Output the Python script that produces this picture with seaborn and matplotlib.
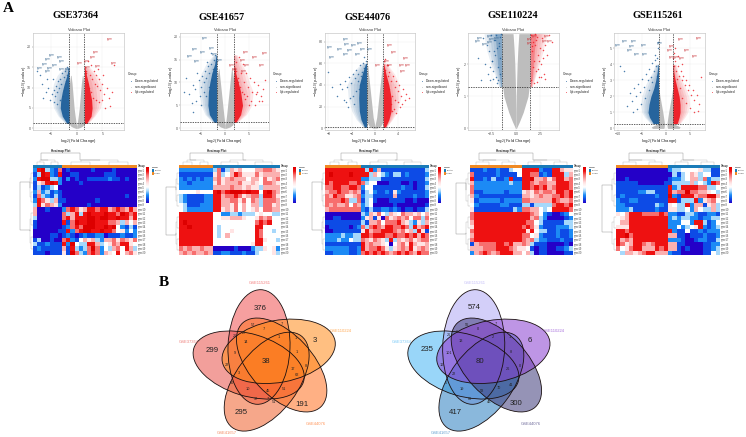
import numpy as np
import matplotlib
matplotlib.use("Agg")
import matplotlib.pyplot as plt
from matplotlib.colors import LinearSegmentedColormap, ListedColormap
from matplotlib.patches import Ellipse, Rectangle
import seaborn as sns

W, H = 746, 437
sns.set_theme(style="whitegrid", font="Liberation Sans")

# ---------- dataset names ----------
titles = ["GSE37364", "GSE41657", "GSE44076", "GSE110224", "GSE115261"]
title_xy = [(76, 15), (222, 18), (368, 18), (513, 15), (658, 15)]
groups = ["Down-regulated", "non-significant", "Up-regulated"]

# ---------- volcano panels: frame in pixels ----------
vol_box = [(33, 33, 124, 130), (180, 33, 269, 130), (325, 33, 415, 130),
           (468, 33, 559, 130), (614, 33, 705, 130)]
vol_xlim = [(-8.5, 9.2), (-9.4, 9.1), (-8.6, 6.9), (-4.96, 4.45), (-10.8, 8.2)]
vol_ylim = [(-0.4, 23.4), (-0.37, 20.8), (-1.6, 88), (-0.05, 2.97), (-0.1, 5.96)]
vol_xticks = [[-5, 0, 5], [-5, 0, 5], [-8, -4, 0, 4], [-2.5, 0, 2.5], [-10, -5, 0, 5]]
vol_yticks = [[0, 5, 10, 15, 20], [0, 5, 10, 15, 20], [0, 20, 40, 60, 80], [0, 1, 2], [0, 1, 2, 3, 4, 5]]
vol_fc = [1.5, 1.8, 1.44, 1.47, 1.5]
vol_p = [1.2, 1.3, 1.0, 1.3, 0.3]
vol_dense_alpha = [0.95, 0.95, 0.95, 0.3, 0.95]

# grey cloud outline (|log2FC| against -log10 p)
grey_y = [[0, .3, .6, 1.2, 3, 5, 8, 11, 13],
          [0, .3, .7, 1.3, 3, 5, 8, 11, 13],
          [0, 2, 5, 10, 20, 35, 50, 58],
          [0, .2, .5, 1, 1.5, 2, 2.5, 2.95],
          [0, .1, .3, .6, 1, 1.5, 2, 2.4]]
grey_out = [[.2, .8, 1.2, 1.5, 1.5, 1.5, 1.5, 1.4, 1.2],
            [.2, 1, 1.5, 1.8, 1.8, 1.8, 1.8, 1.7, 1.4],
            [.3, 1, 1.3, 1.44, 1.44, 1.44, 1.3, 1.2],
            [.05, .35, .75, 1.25, 1.45, 1.47, 1.45, 1.4],
            [2.8, 3, 1.5, 1.5, 1.5, 1.5, 1.5, 1.5]]
grey_in = [[0, 0, 0, .1, .3, .5, .7, .9, 1.1],
           [0, 0, 0, .1, .3, .5, .8, 1.1, 1.3],
           [0, 0, .1, .3, .5, .8, 1.1, 1.15],
           [0, 0, 0, .03, .07, .12, .2, .3],
           [.4, .3, .25, .4, .6, .9, 1.2, 1.4]]

# dense and thinner bands of significant genes
band_y = [[1.2, 3, 5, 7, 9, 11, 13, 15],
          [1.3, 3, 5, 8, 10, 12, 14, 16],
          [1, 8, 16, 28, 40, 50, 60],
          [1.3, 1.6, 2, 2.4, 2.7, 2.95],
          [.3, .7, 1, 1.5, 2, 2.5, 3, 3.5, 4]]
down_dense = [[-1.9, -2.8, -3.2, -3.1, -2.8, -2.4, -1.9, -1.6],
              [-2.3, -3.3, -3.6, -3.5, -3.2, -2.8, -2.2, -1.9],
              [-1.8, -2.4, -2.7, -2.8, -2.7, -2.2, -1.6],
              [-1.55, -1.7, -1.9, -2, -2.1, -2.2],
              [-2.6, -3.4, -3.7, -3.5, -3.1, -2.5, -2.1, -1.8, -1.6]]
down_mid = [[-2.2, -3.6, -4.5, -4.8, -4.8, -4.5, -3.8, -2.5],
            [-2.6, -4.2, -5, -5.5, -5.5, -5, -4, -2.5],
            [-2, -3.2, -4, -4.6, -4.8, -4, -2.4],
            [-1.8, -2.1, -2.6, -3, -3.2, -3.3],
            [-3.2, -4.4, -5, -5.2, -5, -4.5, -3.8, -2.8, -2.2]]
up_dense = [[1.9, 2.8, 3.0, 2.9, 2.6, 2.3, 1.9, 1.6],
            [2.2, 3.2, 3.6, 3.2, 2.7, 2.2, 1.9, 1.85],
            [1.8, 2.4, 2.8, 2.8, 2.4, 1.9, 1.5],
            [1.55, 1.7, 1.8, 1.9, 2, 2.1],
            [2.4, 2.8, 3, 3, 2.8, 2.4, 2, 1.7, 1.6]]
up_mid = [[2.2, 3.5, 4.6, 5, 5, 4.8, 4, 2.5],
          [2.5, 4.4, 5.5, 5.8, 5, 4.5, 3.5, 2.5],
          [2, 3, 3.9, 4.4, 4.2, 3.4, 2],
          [1.7, 2, 2.4, 2.8, 3, 3.3],
          [3, 4, 4.6, 5, 4.8, 4.2, 3.4, 2.6, 2.2]]

# outlying genes
dn_x = [[-1.7, -1.9, -2.2, -2.5, -2.8, -3, -3.2, -3.4, -3.6, -3.8, -4.1, -4.2, -4.4, -4.6, -4.9, -5.2, -5.5, -6, -6.5, -7.2, -2.1, -2.7, -3.3, -3.9, -4.5, -1.8, -2.4, -5.8, -7.7, -6.8],
        [-2, -2.3, -2.6, -2.9, -3.3, -3.6, -3.9, -4.2, -4.5, -4.8, -5.1, -5.5, -5.9, -6.3, -6.8, -7.5, -8.2, -2.2, -3, -3.8, -4.4, -5.3, -6.1, -7, -2.7, -3.4, -4, -5, -6.6, -8.6],
        [-1.6, -1.8, -2, -2.3, -2.6, -2.9, -3.2, -3.5, -3.8, -4.1, -4.4, -4.8, -5.2, -5.6, -6, -6.6, -7.4, -1.9, -2.4, -3, -3.3, -3.7, -4.3, -5, -2.1, -2.8, -3.6, -4.6, -5.4, -8],
        [-1.6, -1.7, -1.8, -1.9, -2, -2.1, -2.2, -2.3, -2.4, -2.5, -2.6, -2.7, -2.8, -2.9, -3, -3.2, -3.4, -3.6, -1.65, -1.85, -2.05, -2.25, -2.45, -2.65, -1.55, -1.75, -1.95, -2.15, -2.35, -3.9],
        [-1.6, -1.8, -2, -2.2, -2.5, -2.8, -3.1, -3.4, -3.8, -4.2, -4.6, -5, -5.4, -5.8, -6.2, -6.6, -7, -7.5, -8, -8.7, -1.7, -2.3, -2.9, -3.5, -4.4, -5.2, -6, -6.9, -9.6, -1.9]]
dn_y = [[14.5, 13, 14, 12.5, 13.5, 11, 12, 10, 11.5, 9, 10.5, 8, 9.5, 12, 8.5, 7, 10, 9, 7.5, 13, 11.5, 8, 7, 6, 6.5, 15, 9.5, 12, 14, 11],
        [14.5, 15, 13, 14, 12, 13.5, 11, 12.5, 10, 11.5, 9, 10.5, 12, 8.5, 9.5, 7.5, 11, 16, 16.5, 14.5, 8, 7, 6, 5.5, 10.5, 9, 7, 5, 3.5, 8],
        [62, 56, 60, 52, 58, 50, 54, 46, 50, 42, 47, 38, 44, 36, 41, 30, 38, 66, 48, 44, 34, 30, 28, 24, 42, 36, 22, 20, 26, 52],
        [2.85, 2.2, 2.65, 1.9, 2.5, 1.6, 2.3, 2.75, 1.8, 2.1, 2.9, 1.5, 2.4, 1.7, 2.6, 2, 2.8, 1.5, 1.7, 1.5, 2.9, 2.4, 2.1, 1.9, 2.95, 2.55, 1.4, 2.75, 1.55, 2.2],
        [5, 4.4, 3.9, 4.6, 3.6, 4.1, 3.2, 3.7, 3, 3.4, 2.6, 3.1, 2.3, 2.8, 2, 2.5, 1.7, 2.2, 1.4, 3.6, 5.4, 4.3, 2.9, 2.4, 1.9, 1.5, 1.2, 1, 3.9, 3.3]]
up_x = [[1.7, 1.9, 2.2, 2.5, 2.8, 3, 3.3, 3.5, 3.8, 4, 4.3, 4.6, 5, 5.4, 5.8, 6.2, 6.8, 7.3, 2.1, 2.7, 3.2, 3.7, 4.4, 4.9, 5.6, 1.8, 2.4, 6.5, 5.2, 4.1],
        [2, 2.3, 2.6, 2.9, 3.3, 3.6, 4, 4.3, 4.7, 5.1, 5.5, 6, 6.4, 6.9, 7.4, 7.8, 8.3, 2.2, 3, 3.8, 4.5, 5.3, 6.2, 7, 2.7, 3.4, 4.1, 5, 6.6, 7.6],
        [1.6, 1.8, 2, 2.2, 2.5, 2.8, 3.1, 3.4, 3.7, 3.9, 4.2, 4.5, 4.8, 5.1, 5.4, 1.9, 2.4, 3, 3.5, 4, 4.4, 2.1, 2.7, 3.3, 4.7, 1.7, 2.3, 5.9, 2.9, 3.6],
        [1.55, 1.65, 1.75, 1.85, 1.95, 2.05, 2.15, 2.25, 2.35, 2.45, 2.55, 2.65, 2.75, 2.9, 3.05, 3.2, 3.4, 3.7, 1.6, 1.8, 2, 2.2, 2.4, 2.6, 2.8, 1.7, 1.9, 2.1, 2.3, 3],
        [1.6, 1.8, 2, 2.2, 2.5, 2.8, 3.1, 3.4, 3.7, 4, 4.3, 4.6, 4.9, 5.2, 5.6, 6, 6.5, 7, 1.7, 2.3, 2.9, 3.5, 4.2, 5, 5.8, 6.8, 1.9, 2.6, 3.3, 7.4]]
up_y = [[15, 14, 16.5, 13, 15.5, 12, 14, 11, 13, 10.5, 12, 9.5, 11, 8.5, 10, 7.5, 9, 15.5, 11, 9, 7.5, 7, 6.5, 7, 5, 13.5, 10, 5.5, 13, 14.5],
        [13, 14.5, 11, 15.5, 12, 14, 10, 12, 9, 11, 8, 10, 7.5, 9.5, 7, 8.5, 10.5, 12.5, 9, 7.5, 7, 6, 5, 6, 10, 8, 6.5, 5, 8, 6],
        [62, 54, 58, 48, 52, 44, 48, 38, 44, 34, 40, 30, 36, 26, 32, 42, 36, 30, 26, 24, 20, 28, 22, 18, 22, 64, 58, 28, 16, 14],
        [2.9, 2.4, 2.7, 2.1, 2.6, 1.8, 2.85, 2.3, 1.6, 2.5, 2, 2.8, 2.2, 1.7, 2.6, 2.3, 2.9, 2.7, 1.5, 1.9, 2.95, 1.45, 2.1, 1.6, 2.45, 2.55, 1.4, 2.75, 1.85, 1.55],
        [4.4, 3.9, 4.2, 3.6, 3.9, 3.3, 3.6, 3, 3.3, 2.7, 3, 2.4, 2.7, 2.1, 2.4, 1.8, 2.1, 1.5, 4.7, 3.1, 2.5, 1.9, 1.6, 1.3, 1, 1.1, 5, 4.5, 4, 3.2]]

# gene-label slots of each volcano (pixels); names too small to read
lab_down = [[(52, 55), (60, 57), (48, 59), (62, 61), (45, 64), (55, 65), (40, 68), (50, 68), (62, 69), (68, 69), (48, 71)],
            [(205, 38), (195, 49), (212, 48), (203, 52), (190, 56), (215, 54), (197, 61), (220, 60)],
            [(346, 39), (347, 44), (354, 45), (360, 43), (330, 47), (340, 49), (350, 50), (363, 49), (370, 49), (346, 54), (358, 54), (332, 57)],
            [(490, 36), (480, 38), (492, 39), (478, 41), (490, 42), (485, 44), (497, 38)],
            [(625, 41), (634, 41), (660, 43), (618, 45), (644, 45), (632, 46), (630, 50), (645, 54), (637, 54)]]
lab_up = [[(110, 39), (96, 52), (93, 57), (80, 63), (87, 61), (114, 63), (88, 67), (98, 66)],
          [(246, 52), (265, 53), (255, 57), (243, 60), (247, 65), (232, 65), (235, 69), (262, 65), (244, 71)],
          [(390, 45), (394, 52), (406, 58), (387, 61), (378, 65), (390, 65), (402, 65), (408, 65), (403, 71)],
          [(547, 36), (535, 36), (530, 39), (545, 41), (530, 43), (550, 41)],
          [(681, 39), (699, 38), (672, 46), (670, 50), (687, 50), (677, 57), (695, 56), (682, 58), (672, 57)]]

# ---------- heatmaps: digit = expression level 0 (low) .. 9 (high) ----------
hm1 = ["2893217 010000010000100000", "1398218 001100000011100000", "2899332 020100111112110100",
       "1568982 000010000000000000", "1312340 000000000000000000", "2623121 000000000000000000",
       "1732131 000000000000000100", "2875361 100000001000000000", "3857652 000000100000000000",
       "6001000 278756887886787686", "6000000 736838988898879878", "3000000 786888998998898868",
       "1000000 817988998887763646", "1000000 127879998898942131", "0000001 182789988988745242",
       "0000110 121012112201112112", "1300100 782146563266757657", "3112111 829433886345768854",
       "1211111 618323797243674863", "1110111 519732787265484675"]
hm2 = ["22222222 3713656444667765", "11111111 5734687555756666", "21212122 6756766646647567",
       "22122222 5756667556547765", "22222222 6666766565536666", "44445444 8978999898848976",
       "32111122 8867787567738875", "32111122 8866775747637776", "43111222 8866574646637756",
       "43222222 8856574645647766", "88888888 4422332333454433", "88888888 4455666544576744",
       "89888888 4444444444787844", "88988888 4344444444884444", "88888888 4344544444874434",
       "88888888 4346444444874444", "88888888 4444444444885443", "88888888 4444444445884444",
       "76766766 0000010002335452", "67676676 1122111211344453"]
hm3 = ["888888888 83826111111111113", "898888988 88364321331211112", "888888888 22333111111111113",
       "878888778 73440001110010112", "778877887 24411111112110113", "677877676 13421121521111112",
       "768775567 23311111611112112", "777787337 13410001111001000", "767667476 23400000100000001",
       "677777777 21311221210110113", "000000000 32657436547665646", "001100000 25615075676747737",
       "111111111 31667477786532536", "011111012 73787688778738678", "001111111 58677888767563851",
       "222232233 88788877877878687", "222322433 76576538365675677", "111111111 86766540467586556",
       "222222112 86778753567685676", "112222112 78787876787876877"]
hm4 = ["111211211344 888821188655", "711111211114 887712188836", "811213112811 889667578867",
       "622222222322 887677668887", "722222222222 887878678887", "711222221222 565767768878",
       "621111111111 665676677878", "512222212222 776666687667", "421111122111 331333378878",
       "511111111132 776643488887", "788888888888 887642100124", "788888888888 886732000012",
       "688888888888 877431111133", "588888888888 787521112223", "788888888888 858433112112",
       "688888888888 774521112112", "788888888888 767322111211", "167777887866 763111000010",
       "666777888765 541011001123", "267876788866 463011000011"]
hm5 = ["000000000000 233444453311", "000000000000 031346534411", "001000000000 122346637233",
       "111110000001 133336343287", "111111111111 823888877334", "111112233111 867797766543",
       "121111111211 921888677996", "211221111111 881333825674", "221111111321 543382661563",
       "222311111211 553342643363", "546888777787 221133211221", "456888888888 232332212233",
       "466888888888 222442883124", "555888888888 224234582123", "887888888888 821141121222",
       "889788888888 661101112112", "867688888888 222100122113", "875688767888 661100001122",
       "745788666878 661010001123", "436656788666 211000001143"]
heat_rows = [hm1, hm2, hm3, hm4, hm5]
heat_box = [(33, 168, 137, 255), (179, 168, 280, 255), (325, 168, 429, 255), (470, 168, 573, 255), (616, 168, 720, 255)]
cbar_x = [146, 293, 438, 583, 729]
# sample group per column: 0 = first group, 1 = second group
ann_first = [1, 0, 0, 0, 0]
top_root = [(41, 80), (190, 243), (341, 397), (479, 533), (629, 683)]
left_root = [(20, 182, 230), (166, 187, 235), (312, 182, 230), (456, 183, 234), (602, 185, 232)]
row_split = [9, 10, 10, 10, 10]
gene_rows = [f"gene{i}" for i in range(1, 21)]

# ---------- venn diagrams ----------
venn_names = ["GSE115261", "GSE110224", "GSE44076", "GSE41657", "GSE37364"]
venn_cx = [327, 386, 395, 350, 296]
venn_cy = [246, 259, 300, 350, 300]
venn_angle = [-88, -10.6, 47, -53, 17]
venn_draw_order = [4, 0, 3, 2, 1]
venn_colors_a = ["#F05050", "#FF8C1A", "#FF7020", "#F0602A", "#E8504A"]
venn_colors_b = ["#B0A8F5", "#8A3FD0", "#3F3A7A", "#2B7FC0", "#45B5F5"]
venn_name_xy_a = [(330, 55), (572, 198), (497, 478), (230, 505), (115, 232)]
venn_name_xy_b = [(298, 55), (535, 198), (467, 478), (197, 505), (80, 232)]
big_a = [("376", 330, 130), ("3", 495, 225), ("191", 455, 417), ("295", 272, 443), ("299", 188, 255), ("38", 347, 290)]
big_b = [("574", 298, 128), ("6", 463, 225), ("300", 423, 415), ("417", 240, 441), ("235", 157, 254), ("80", 314, 290)]
small_a = [("57", 308, 180), ("7", 342, 192), ("7", 395, 178), ("26", 255, 212), ("27", 283, 203), ("14", 288, 230),
           ("1", 385, 215), ("1", 437, 218), ("9", 255, 265), ("1", 440, 262), ("22", 232, 300), ("3", 268, 325),
           ("17", 428, 312), ("8", 467, 302), ("62", 442, 330), ("90", 245, 355), ("10", 293, 372), ("45", 355, 377),
           ("51", 403, 372), ("37", 317, 403), ("7", 352, 403), ("51", 373, 411)]
small_b = [("56", 277, 180), ("0", 310, 192), ("7", 363, 176), ("26", 222, 210), ("6", 245, 200), ("13", 257, 228),
           ("2", 353, 215), ("1", 405, 215), ("101", 223, 265), ("8", 408, 260), ("16", 201, 300), ("22", 238, 326),
           ("26", 398, 312), ("0", 435, 302), ("41", 408, 360), ("5", 213, 353), ("19", 262, 372), ("58", 322, 377),
           ("70", 373, 370), ("89", 285, 403), ("46", 342, 411)]

# ---------- styling constants ----------
BLUE, RED, GREY = "#1f5f9a", "#ee1c25", "#bdbdbd"
DENDRO = "#999999"
heat_cmap = LinearSegmentedColormap.from_list("heat", ["#2400c8", "#0d4ce6", "#1c8cf5", "#a6d8fb", "#ffffff",
                                                        "#ffe5e5", "#fbb0b0", "#f77070", "#ee1111", "#dd0000"])
ANN_A, ANN_B = "#f08a24", "#1a7bb8"

fig = plt.figure(figsize=(W / 100, H / 100), dpi=100, facecolor="white")


def ax_px(l, t, r, b):
    return fig.add_axes([l / W, 1 - b / H, (r - l) / W, (b - t) / H])


ov = fig.add_axes([0, 0, 1, 1], zorder=20)
ov.set_xlim(0, W)
ov.set_ylim(H, 0)
ov.axis("off")
ov.patch.set_alpha(0)


def T(x, y, s, size, **kw):
    kw.setdefault("ha", "center")
    kw.setdefault("va", "center")
    ov.text(x, y, s, fontsize=size, **kw)


def soft_band(ax, by, edge, dense, mid, col, dense_alpha):
    """Solid core next to the cut-off, then a fading zone out to the thin edge."""
    dense, mid = np.array(dense), np.array(mid)
    for f in (1.0, .75, .5, .25):
        ax.fill_betweenx(by, edge, dense + (mid - dense) * f, color=col, alpha=.1, lw=0, zorder=2)
    ax.fill_betweenx(by, edge, dense, color=col, alpha=dense_alpha, lw=0, zorder=3)


# ---------- volcano panels ----------
for i, box in enumerate(vol_box):
    ax = ax_px(*box)
    gy, go, gi = map(np.array, (grey_y[i], grey_out[i], grey_in[i]))
    ax.fill_betweenx(gy, -go, -gi, color=GREY, lw=0, zorder=2)
    ax.fill_betweenx(gy, gi, go, color=GREY, lw=0, zorder=2)
    by = np.array(band_y[i])
    fc = vol_fc[i]
    soft_band(ax, by, -fc, down_dense[i], down_mid[i], BLUE, vol_dense_alpha[i])
    soft_band(ax, by, fc, up_dense[i], up_mid[i], RED, vol_dense_alpha[i])
    sns.scatterplot(x=dn_x[i], y=dn_y[i], ax=ax, color=BLUE, s=1.2, linewidth=0, alpha=.8, zorder=4)
    sns.scatterplot(x=up_x[i], y=up_y[i], ax=ax, color=RED, s=1.2, linewidth=0, alpha=.8, zorder=4)
    for v in (-fc, fc):
        ax.axvline(v, color="#222222", lw=.5, dashes=(2, 1.5), zorder=5)
    ax.axhline(vol_p[i], color="#222222", lw=.5, dashes=(2, 1.5), zorder=5)
    ax.set_xlim(*vol_xlim[i])
    ax.set_ylim(*vol_ylim[i])
    ax.set_xticks(vol_xticks[i])
    ax.set_yticks(vol_yticks[i])
    ax.grid(True, color="#ececec", lw=.3)
    ax.set_axisbelow(True)
    ax.tick_params(labelsize=2.6, length=.8, width=.25, pad=.6, colors="#555555", bottom=True, left=True)
    for s in ax.spines.values():
        s.set_color("#bbbbbb")
        s.set_linewidth(.4)
    l, t, r, b = box
    T((l + r) / 2, 30, "Volcano Plot", 2.9, color="#333333")
    T((l + r) / 2, 141, r"$\log_{2}$(Fold Change)", 3.0, color="#222222")
    T(l - 9, (t + b) / 2, r"$-\log_{10}$(p-value)", 2.9, rotation=90, color="#222222")
    T(r + 4, 74, "Group", 2.4, ha="left", color="#222222")
    for k, (g, c) in enumerate(zip(groups, [BLUE, GREY, RED])):
        T(r + 11, 81 + k * 5.6, g, 2.4, ha="left", color="#222222")
        ov.plot([r + 7], [81 + k * 5.6], "o", ms=.5, mew=0, color=c)
    T(title_xy[i][0], title_xy[i][1], titles[i], 7.4, family="Liberation Serif", weight="bold", color="black")
    for px, py in lab_down[i]:
        T(px, py, "gene", 1.9, color="#3d6a92")
    for px, py in lab_up[i]:
        T(px, py, "gene", 1.9, color="#c9353a")


# ---------- dendrogram helpers ----------
def branch_top(x0, x1, level, base, depth):
    """Draw a small tree over span x0..x1, returning its joint x."""
    if depth == 0:
        ov.plot([(x0 + x1) / 2] * 2, [level, base], color=DENDRO, lw=.2)
        return (x0 + x1) / 2
    m = (x0 + x1) / 2
    nxt = level + (base - level) * .45
    a = branch_top(x0, m, nxt, base, depth - 1)
    b = branch_top(m, x1, nxt, base, depth - 1)
    ov.plot([a, a, b, b], [nxt, level, level, nxt], color=DENDRO, lw=.2)
    return (a + b) / 2


def branch_left(y0, y1, level, base, depth):
    if depth == 0:
        ov.plot([level, base], [(y0 + y1) / 2] * 2, color=DENDRO, lw=.2)
        return (y0 + y1) / 2
    m = (y0 + y1) / 2
    nxt = level + (base - level) * .45
    a = branch_left(y0, m, nxt, base, depth - 1)
    b = branch_left(m, y1, nxt, base, depth - 1)
    ov.plot([nxt, level, level, nxt], [a, a, b, b], color=DENDRO, lw=.2)
    return (a + b) / 2


# ---------- heatmaps ----------
for i, box in enumerate(heat_box):
    mat = np.array([[int(c) for c in r.replace(" ", "")] for r in heat_rows[i]])
    n_first = len(heat_rows[i][0].split()[0])
    ax = ax_px(*box)
    cax = ax_px(cbar_x[i], 167, cbar_x[i] + 2.6, 203)
    sns.heatmap(mat, ax=ax, cmap=heat_cmap, vmin=0, vmax=9, cbar_ax=cax,
                xticklabels=False, yticklabels=gene_rows)
    cax.set_yticks([])
    cax.tick_params(length=0)
    for s in cax.spines.values():
        s.set_visible(False)
    ax.yaxis.tick_right()
    ax.tick_params(axis="y", labelsize=1.8, length=0, pad=.8, labelrotation=0, colors="#444444")

    l, t, r, b = box
    # sample annotation strip
    ann = ax_px(l, 165, r, 167.6)
    groups_row = np.r_[np.full(n_first, ann_first[i]), np.full(mat.shape[1] - n_first, 1 - ann_first[i])]
    sns.heatmap(groups_row[None, :], ax=ann, cmap=ListedColormap([ANN_A, ANN_B]), vmin=0, vmax=1,
                cbar=False, xticklabels=False, yticklabels=False)
    T(r + 1, 166.3, "Group", 1.8, ha="left", weight="bold", color="#333333")

    # dendrograms
    bx = l + (r - l) * n_first / mat.shape[1]
    ra, rb = top_root[i]
    a = branch_top(l, bx, 160, 165, 2)
    c = branch_top(bx, r, 160, 165, 2)
    ov.plot([a, ra, ra, rb, rb, c], [160, 160, 153, 153, 160, 160], color="#888888", lw=.3)
    by = t + (b - t) * row_split[i] / 20
    lx, ly0, ly1 = left_root[i]
    a = branch_left(t, by, lx + 10, l, 2)
    c = branch_left(by, b, lx + 10, l, 2)
    ov.plot([lx + 10, lx + 10, lx, lx, lx + 10, lx + 10], [a, ly0, ly0, ly1, ly1, c], color="#888888", lw=.3)
    T((ra + rb) / 2, 151, "Heatmap Plot", 2.2, weight="bold", color="#222222")

    # group key
    kx = cbar_x[i] + 5.5
    T(kx, 167, "Group", 1.6, ha="left", weight="bold", color="#333333")
    for k, (name, col) in enumerate(zip(["Control", "Tumor"], [ANN_B, ANN_A])):
        ov.add_patch(Rectangle((kx, 169 + k * 3), 2.6, 3, color=col, lw=0))
        T(kx + 3, 170.5 + k * 3, name, 1.5, ha="left", color="#333333")

# ---------- venn diagrams ----------
for cols, dx, names, big, small in ((venn_colors_a, 150, venn_name_xy_a, big_a, small_a),
                                     (venn_colors_b, 375, venn_name_xy_b, big_b, small_b)):
    shift = 0 if dx == 150 else 214.7
    for j in venn_draw_order:
        ov.add_patch(Ellipse((150 + venn_cx[j] / 3 + shift, 265 + venn_cy[j] / 3), 2 * 172 / 3, 2 * 93 / 3,
                             angle=venn_angle[j], facecolor=cols[j], alpha=.55, lw=0))
    for cx, cy, ang in zip(venn_cx, venn_cy, venn_angle):
        ov.add_patch(Ellipse((150 + cx / 3 + shift, 265 + cy / 3), 2 * 172 / 3, 2 * 93 / 3, angle=ang,
                             fill=False, edgecolor="#1a1010", lw=.6))
    for (zx, zy), nm, col in zip(names, venn_names, cols):
        T(dx + zx / 3, 265 + zy / 3, nm, 3.0, color=col, alpha=.75)
    for s, zx, zy in big:
        T(dx + zx / 3, 265 + zy / 3, s, 5.6, color="#222222")
    for s, zx, zy in small:
        T(dx + zx / 3, 265 + zy / 3, s, 2.8, color="#222222")

T(8, 8, "A", 11, family="Liberation Serif", weight="bold", color="black")
T(164, 282, "B", 11, family="Liberation Serif", weight="bold", color="black")

fig.savefig("out.png", dpi=100, facecolor="white")
